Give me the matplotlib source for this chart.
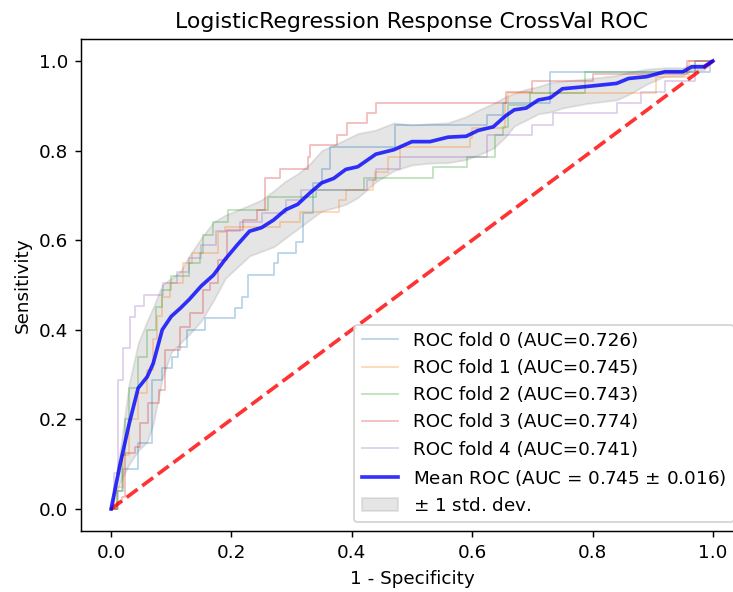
"""Cross-validated ROC curves for the logistic regression response model.
"""
import numpy as np
import matplotlib
matplotlib.use('Agg')
import matplotlib.pyplot as plt

SAVE = True

# per-fold ROC step curves: fpr where the curve rises, tpr after the rise
fold0_fpr = [0, 0.012, 0.02, 0.045, 0.068, 0.084, 0.101, 0.112, 0.126, 0.156, 0.206, 0.217,
             0.228, 0.27, 0.278, 0.308, 0.319, 0.336, 0.35, 0.364, 0.472, 0.624, 0.651, 0.729,
             0.995, 1.0]
fold0_tpr = [0, 0.04, 0.09, 0.147, 0.288, 0.314, 0.34, 0.362, 0.40, 0.426, 0.448, 0.474,
             0.522, 0.548, 0.571, 0.597, 0.66, 0.727, 0.76, 0.809, 0.857, 0.879, 0.906, 0.976,
             1.0, 1.0]

fold1_fpr = [0, 0.01, 0.02, 0.03, 0.045, 0.06, 0.07, 0.076, 0.084, 0.098, 0.12, 0.134, 0.178,
             0.19, 0.28, 0.314, 0.378, 0.39, 0.436, 0.439, 0.46, 0.48, 0.596, 0.599, 0.654,
             0.66, 0.906, 0.96, 1.0]
fold1_tpr = [0, 0.05, 0.12, 0.2, 0.26, 0.31, 0.38, 0.43, 0.474, 0.504, 0.548, 0.571, 0.619,
             0.63, 0.641, 0.664, 0.69, 0.712, 0.734, 0.753, 0.786, 0.809, 0.827, 0.85, 0.906,
             0.929, 0.965, 1.0, 1.0]

fold2_fpr = [0, 0.01, 0.018, 0.023, 0.03, 0.045, 0.06, 0.075, 0.084, 0.1, 0.13, 0.148, 0.153,
             0.17, 0.195, 0.26, 0.34, 0.42, 0.535, 0.591, 0.638, 0.652, 0.66, 0.696, 0.787,
             0.97, 1.0]
fold2_tpr = [0, 0.04, 0.12, 0.2, 0.27, 0.34, 0.40, 0.45, 0.489, 0.52, 0.548, 0.571, 0.612,
             0.64, 0.667, 0.697, 0.712, 0.738, 0.764, 0.786, 0.835, 0.853, 0.902, 0.928, 0.976,
             1.0, 1.0]

fold3_fpr = [0, 0.01, 0.018, 0.023, 0.04, 0.048, 0.062, 0.079, 0.09, 0.115, 0.131, 0.153,
             0.164, 0.178, 0.192, 0.22, 0.242, 0.256, 0.281, 0.328, 0.331, 0.375, 0.392, 0.425,
             0.441, 0.657, 0.70, 0.80, 0.957, 1.0]
fold3_tpr = [0, 0.015, 0.027, 0.124, 0.139, 0.191, 0.236, 0.266, 0.355, 0.407, 0.437, 0.489,
             0.504, 0.556, 0.623, 0.645, 0.667, 0.738, 0.76, 0.786, 0.812, 0.835, 0.861, 0.883,
             0.906, 0.93, 0.955, 0.97, 1.0, 1.0]

fold4_fpr = [0, 0.005, 0.012, 0.02, 0.032, 0.04, 0.054, 0.087, 0.11, 0.13, 0.15, 0.175, 0.215,
             0.25, 0.29, 0.316, 0.425, 0.44, 0.48, 0.624, 0.70, 0.735, 0.84, 0.88, 0.92, 0.97,
             1.0]
fold4_tpr = [0, 0.08, 0.288, 0.36, 0.429, 0.452, 0.478, 0.504, 0.53, 0.56, 0.59, 0.62, 0.641,
             0.66, 0.69, 0.712, 0.734, 0.76, 0.786, 0.835, 0.857, 0.883, 0.906, 0.93, 0.955, 1.0,
             1.0]

fold_auc = [0.726, 0.745, 0.743, 0.774, 0.741]
mean_auc = 0.745
std_auc = 0.016

# mean ROC over folds and the +/- 1 std. dev. envelope
mean_fpr = [0, 0.015, 0.03, 0.045, 0.06, 0.07, 0.085, 0.1, 0.115, 0.13, 0.15, 0.17, 0.19, 0.21,
            0.23, 0.25, 0.27, 0.29, 0.31, 0.33, 0.35, 0.37, 0.39, 0.41, 0.44, 0.47, 0.5, 0.53,
            0.56, 0.59, 0.61, 0.635, 0.655, 0.67, 0.69, 0.71, 0.73, 0.75, 0.79, 0.84, 0.86,
            0.89, 0.92, 0.95, 0.965, 0.985, 1.0]
mean_tpr = [0.0, 0.10, 0.19, 0.27, 0.295, 0.325, 0.40, 0.43, 0.448, 0.468, 0.498, 0.522, 0.558,
            0.59, 0.62, 0.628, 0.645, 0.668, 0.68, 0.705, 0.728, 0.738, 0.758, 0.764, 0.792,
            0.802, 0.82, 0.82, 0.83, 0.832, 0.845, 0.853, 0.877, 0.891, 0.895, 0.913, 0.918,
            0.938, 0.943, 0.95, 0.961, 0.965, 0.976, 0.976, 0.987, 0.987, 1.0]
tpr_upper = [0.0, 0.13, 0.28, 0.37, 0.42, 0.45, 0.50, 0.515, 0.53, 0.565, 0.605, 0.64, 0.656,
             0.667, 0.678, 0.69, 0.71, 0.732, 0.748, 0.77, 0.80, 0.812, 0.825, 0.838, 0.846,
             0.862, 0.857, 0.86, 0.862, 0.876, 0.89, 0.905, 0.92, 0.928, 0.937, 0.943, 0.952,
             0.955, 0.96, 0.968, 0.975, 0.982, 0.985, 0.985, 0.993, 0.993, 1.0]
tpr_lower = [0.0, 0.06, 0.10, 0.13, 0.15, 0.19, 0.29, 0.35, 0.37, 0.39, 0.42, 0.465, 0.515,
             0.54, 0.565, 0.575, 0.585, 0.605, 0.625, 0.645, 0.665, 0.672, 0.68, 0.695, 0.73,
             0.755, 0.768, 0.772, 0.773, 0.78, 0.79, 0.805, 0.83, 0.855, 0.868, 0.882, 0.886,
             0.895, 0.905, 0.913, 0.925, 0.948, 0.966, 0.967, 0.98, 0.98, 1.0]

l_fold_fpr = [fold0_fpr, fold1_fpr, fold2_fpr, fold3_fpr, fold4_fpr]
l_fold_tpr = [fold0_tpr, fold1_tpr, fold2_tpr, fold3_tpr, fold4_tpr]

###########################################################################

dpi = 132
fig = plt.figure(figsize=(733 / dpi, 592 / dpi), dpi=dpi)
ax = fig.add_axes([0.1105, 0.1024, 0.9031, 0.8324])

# one faint step curve per fold
for i, (fpr, tpr) in enumerate(zip(l_fold_fpr, l_fold_tpr)):
    ax.step(fpr, tpr, where='post', lw=1, alpha=0.3,
            label=f'ROC fold {i} (AUC={fold_auc[i]:.3f})')

# chance diagonal
ax.plot([0, 1], [0, 1], linestyle='--', lw=2, color='r', alpha=0.8)

ax.plot(mean_fpr, mean_tpr, color='b', lw=2, alpha=0.8,
        label=f'Mean ROC (AUC = {mean_auc:.3f} $\\pm$ {std_auc:.3f})')
ax.fill_between(mean_fpr, tpr_lower, tpr_upper, color='grey', alpha=0.2,
                label=r'$\pm$ 1 std. dev.')

ax.set_xlim(-0.05, 1.05)
ax.set_ylim(-0.05, 1.05)
ax.set_xlabel('1 - Specificity')
ax.set_ylabel('Sensitivity')
ax.set_title('LogisticRegression Response CrossVal ROC')
ax.legend(loc='lower right')

if SAVE:
    fig.savefig('out.png', dpi=dpi)
